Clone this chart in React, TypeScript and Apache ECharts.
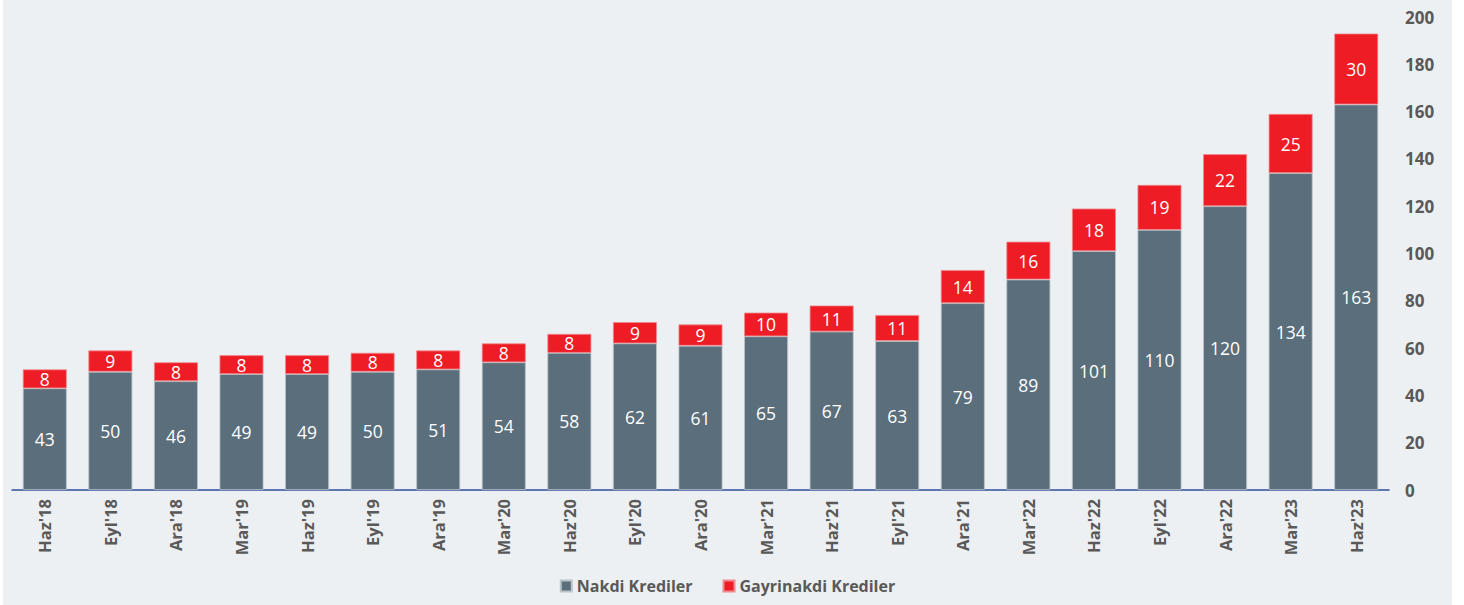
import React, { useEffect, useRef } from "react";
import * as echarts from "echarts";

const categories = ["Haz'18", "Eyl'18", "Ara'18", "Mar'19", "Haz'19", "Eyl'19", "Ara'19", "Mar'20", "Haz'20", "Eyl'20", "Ara'20", "Mar'21", "Haz'21", "Eyl'21", "Ara'21", "Mar'22", "Haz'22", "Eyl'22", "Ara'22", "Mar'23", "Haz'23"];
const nakdi = [43, 50, 46, 49, 49, 50, 51, 54, 58, 62, 61, 65, 67, 63, 79, 89, 101, 110, 120, 134, 163];
const gayrinakdi = [8, 9, 8, 8, 8, 8, 8, 8, 8, 9, 9, 10, 11, 11, 14, 16, 18, 19, 22, 25, 30];

const FONT = "'Open Sans', 'Noto Sans', sans-serif";

export default function App() {
  const ref = useRef<HTMLDivElement>(null);
  useEffect(() => {
    if (!ref.current) return;
    const chart = echarts.init(ref.current, null, { renderer: "svg" });
    chart.setOption({
      animation: false,
      backgroundColor: "#edf0f2",
      textStyle: { fontFamily: FONT },
      grid: { left: 9, right: 63, top: 17, bottom: 115, containLabel: false },
      legend: {
        bottom: 6,
        left: "center",
        itemWidth: 11,
        itemHeight: 11,
        itemGap: 30,
        icon: "rect",
        textStyle: { fontFamily: FONT, fontSize: 16, fontWeight: "bold", color: "#595959" },
        data: ["Nakdi Krediler", "Gayrinakdi Krediler"],
      },
      xAxis: {
        type: "category",
        data: categories,
        axisLine: { lineStyle: { color: "#2f4f9a", width: 1.5 } },
        axisTick: { show: false },
        axisLabel: {
          rotate: 90,
          margin: 9,
          fontFamily: FONT,
          fontSize: 16.5,
          fontWeight: "bold",
          color: "#595959",
          interval: 0,
        },
      },
      yAxis: {
        type: "value",
        position: "right",
        min: 0,
        max: 200,
        interval: 20,
        splitLine: { show: false },
        axisLine: { show: false },
        axisTick: { show: false },
        axisLabel: {
          margin: 16,
          fontFamily: FONT,
          fontSize: 17,
          fontWeight: "bold",
          color: "#595959",
        },
      },
      series: [
        {
          name: "Nakdi Krediler",
          type: "bar",
          stack: "total",
          data: nakdi,
          barWidth: "67%",
          itemStyle: { color: "#5a6e7b", borderColor: "#b9c3c9", borderWidth: 0.8 },
          label: { show: true, position: "inside", color: "#ffffff", fontSize: 17.5, fontFamily: FONT },
        },
        {
          name: "Gayrinakdi Krediler",
          type: "bar",
          stack: "total",
          data: gayrinakdi,
          barWidth: "67%",
          itemStyle: { color: "#ee1c25", borderColor: "#f08a8e", borderWidth: 0.8 },
          label: { show: true, position: "inside", color: "#ffffff", fontSize: 17.5, fontFamily: FONT },
        },
      ],
    });
    return () => chart.dispose();
  }, []);
  return (
    <div style={{ position: "fixed", left: 0, top: 0, width: 1464, height: 605, background: "#ffffff" }}>
      <div ref={ref} style={{ position: "absolute", left: 3, top: 0, width: 1449, height: 605 }} />
    </div>
  );
}
